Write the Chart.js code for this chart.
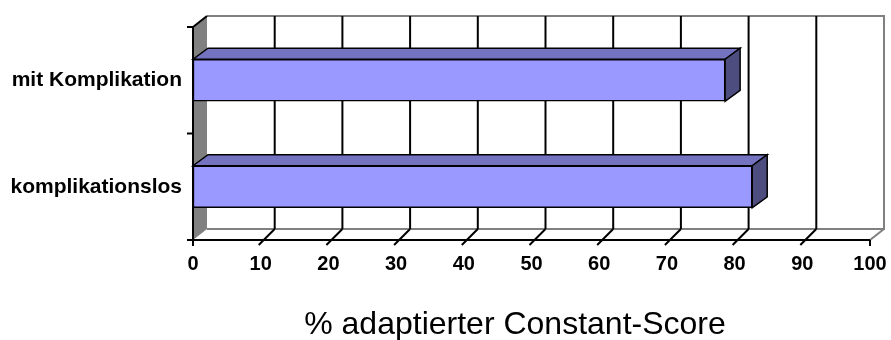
<!DOCTYPE html>
<html>
<head>
<meta charset="utf-8">
<script src="https://cdn.jsdelivr.net/npm/chart.js@4/dist/chart.umd.min.js"></script>
<style>
  html, body { margin: 0; padding: 0; background: #fff; }
  #wrap { width: 891px; height: 340px; position: relative; }
</style>
</head>
<body>
<div id="wrap"><canvas id="chart"></canvas></div>
<script>
// Categories and values
const categories = ['mit Komplikation', 'komplikationslos'];
const scoreValues = [78.6, 82.6];
const axisMin = 0;
const axisMax = 100;
const axisStep = 10;
const axisTitle = '% adaptierter Constant-Score';

const FONT = "'Liberation Sans', Arial, sans-serif";

// depth of the 3D frame (back wall offset) and of the bars
const WALL_DX = 14, WALL_DY = -11;
const BAR_DX = 15, BAR_DY = -11;

function poly(ctx, pts) {
  ctx.beginPath();
  ctx.moveTo(pts[0][0], pts[0][1]);
  for (let i = 1; i < pts.length; i++) ctx.lineTo(pts[i][0], pts[i][1]);
  ctx.closePath();
}

const frame3d = {
  id: 'frame3d',
  beforeDatasetsDraw(chart) {
    const { ctx, chartArea: a, scales: { x } } = chart;
    ctx.save();
    ctx.lineJoin = 'miter';

    // left side wall
    poly(ctx, [[a.left, a.top], [a.left + WALL_DX, a.top + WALL_DY],
               [a.left + WALL_DX, a.bottom + WALL_DY], [a.left, a.bottom]]);
    ctx.fillStyle = '#808080';
    ctx.fill();

    // back wall outline and floor edges
    ctx.strokeStyle = '#808080';
    ctx.lineWidth = 2;
    ctx.beginPath();
    ctx.moveTo(a.left + WALL_DX, a.top + WALL_DY);
    ctx.lineTo(a.right + WALL_DX, a.top + WALL_DY);
    ctx.lineTo(a.right + WALL_DX, a.bottom + WALL_DY);
    ctx.lineTo(a.left + WALL_DX, a.bottom + WALL_DY);
    ctx.moveTo(a.right, a.bottom);
    ctx.lineTo(a.right + WALL_DX, a.bottom + WALL_DY);
    ctx.stroke();

    // vertical gridlines on the back wall and their floor ticks
    ctx.strokeStyle = '#000';
    ctx.lineWidth = 2;
    x.ticks.forEach(t => {
      const xf = x.getPixelForValue(t.value);
      ctx.beginPath();
      if (t.value > axisMin && t.value < axisMax) {
        ctx.moveTo(xf + WALL_DX, a.top + WALL_DY);
        ctx.lineTo(xf + WALL_DX, a.bottom + WALL_DY);
        ctx.moveTo(xf - 2, a.bottom + 5);
        ctx.lineTo(xf + WALL_DX, a.bottom + WALL_DY);
      } else {
        ctx.moveTo(xf, a.bottom);
        ctx.lineTo(xf, a.bottom + 6);
      }
      ctx.stroke();
    });

    // top edge of side wall
    ctx.beginPath();
    ctx.moveTo(a.left, a.top);
    ctx.lineTo(a.left + WALL_DX, a.top + WALL_DY);
    ctx.stroke();
    ctx.restore();
  },
  afterDatasetsDraw(chart) {
    const { ctx, chartArea: a } = chart;
    ctx.save();
    ctx.lineJoin = 'miter';
    ctx.strokeStyle = '#000';
    ctx.lineWidth = 1.5;

    // top and end faces of each bar
    chart.getDatasetMeta(0).data.forEach(bar => {
      const { x, y, base, height } = bar.getProps(['x', 'y', 'base', 'height'], true);
      const top = y - height / 2, bottom = y + height / 2;
      poly(ctx, [[base, top], [base + BAR_DX, top + BAR_DY], [x + BAR_DX, top + BAR_DY], [x, top]]);
      ctx.fillStyle = '#7373BF';
      ctx.fill();
      ctx.stroke();
      poly(ctx, [[x, top], [x + BAR_DX, top + BAR_DY], [x + BAR_DX, bottom + BAR_DY], [x, bottom]]);
      ctx.fillStyle = '#4D4D80';
      ctx.fill();
      ctx.stroke();
    });

    // front axis lines
    ctx.lineWidth = 2;
    ctx.beginPath();
    ctx.moveTo(a.left, a.top);
    ctx.lineTo(a.left, a.bottom);
    ctx.moveTo(a.left - 6, a.bottom);
    ctx.lineTo(a.right, a.bottom);
    [a.top, (a.top + a.bottom) / 2].forEach(yy => {
      ctx.moveTo(a.left - 6, yy);
      ctx.lineTo(a.left, yy);
    });
    ctx.stroke();

    // value axis title
    const xs = chart.scales.x;
    ctx.fillStyle = '#000';
    ctx.font = '32px ' + FONT;
    ctx.textAlign = 'center';
    ctx.textBaseline = 'alphabetic';
    ctx.fillText(axisTitle, xs.getPixelForValue(axisMin) + 322, 334);
    ctx.restore();
  }
};

new Chart(document.getElementById('chart'), {
  type: 'bar',
  data: {
    labels: categories,
    datasets: [{
      data: scoreValues,
      backgroundColor: '#9999FF',
      borderColor: '#000',
      borderWidth: 1.5,
      borderSkipped: false,
      barThickness: 42
    }]
  },
  options: {
    indexAxis: 'y',
    responsive: true,
    maintainAspectRatio: false,
    animation: false,
    events: [],
    layout: { autoPadding: false, padding: { top: 27, right: 21, left: 0, bottom: 0 } },
    plugins: { legend: { display: false }, tooltip: { enabled: false } },
    scales: {
      x: {
        min: axisMin,
        max: axisMax,
        grid: { display: false, drawTicks: false },
        border: { display: false },
        ticks: {
          stepSize: axisStep,
          color: '#000',
          padding: 12,
          maxRotation: 0,
          font: { family: FONT, size: 20, weight: 'bold' }
        },
        afterFit(scale) {
          scale.height = 100;
          scale.paddingLeft = 0;
          scale.paddingRight = 0;
        }
      },
      y: {
        grid: { display: false, drawTicks: false },
        border: { display: false },
        ticks: {
          color: '#000',
          padding: 11,
          font: { family: FONT, size: 21, weight: 'bold' }
        },
        afterFit(scale) {
          scale.width = 193;
          scale.paddingTop = 0;
          scale.paddingBottom = 0;
        }
      }
    }
  },
  plugins: [frame3d]
});
</script>
</body>
</html>
